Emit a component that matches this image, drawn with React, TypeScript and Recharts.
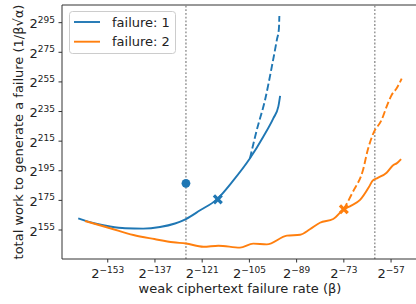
import React from 'react';
import {
  ComposedChart,
  Line,
  Scatter,
  XAxis,
  YAxis,
  ReferenceLine,
  Legend,
} from 'recharts';

const FONT = '"DejaVu Sans", sans-serif';
const BLUE = '#1f77b4';
const ORANGE = '#ff7f0e';
const AXIS = '#333';

// all values are log2: x = log2(beta), y = log2(total work)
const blueSolidX = [-163, -157.3, -152.2, -147.1, -141, -135.3, -130.2, -126.5, -121.7, -116, -110.5, -104.8, -100.3, -96.9, -95.2, -94.6];
const blueSolidY = [162.9, 159.4, 157.4, 156.2, 155.9, 157.0, 159.4, 162.4, 168.3, 175.7, 188.3, 203.4, 218.0, 230.4, 238.3, 245.5];

const blueDashX = [-104.8, -102.5, -99.7, -97.4, -95.7, -95.0, -94.85];
const blueDashY = [203.4, 222.5, 242.8, 265.3, 283.3, 291, 299.5];

const orangeSolidX = [-160.7, -152.2, -144.3, -137.2, -130.8, -126.5, -120.6, -115.5, -108.2, -103.7, -99.1, -92.3, -87.8, -84.5, -81.1, -76.6, -73.0, -70.5, -67.5, -64.5, -63.3, -61.8, -58.5, -56.2, -55.1, -53.6];
const orangeSolidY = [161.1, 156.2, 151.6, 148.9, 146.7, 145.9, 143.7, 144.4, 143.1, 145.8, 145.3, 151.2, 151.8, 155.5, 159.9, 162.4, 169.0, 171.5, 175.3, 184, 188.2, 189.9, 193.7, 198.9, 200.0, 202.9];

const orangeDashX = [-73.0, -69.9, -66.5, -64.9, -63.0, -60.2, -58.5, -56.8, -55.1, -53.4];
const orangeDashY = [169.0, 180.9, 195.5, 209.0, 220.3, 229.3, 238.3, 246.2, 250.7, 257.2];

const blueDot = { x: -126.5, y: 186.5 };
const blueCross = { x: -115.7, y: 175.7 };
const orangeCross = { x: -73.0, y: 169.0 };

const vLines = [-126.5, -62.5];

const xTicks = [-153, -137, -121, -105, -89, -73, -57];
const yTicks = [155, 175, 195, 215, 235, 255, 275, 295];

const X_DOMAIN = [-168.5, -47.19];
const Y_DOMAIN = [135.42, 306.93];

const legendItems = [
  { label: 'failure: 1', color: BLUE },
  { label: 'failure: 2', color: ORANGE },
];

const zip = (xs: number[], ys: number[]) => xs.map((x, i) => ({ x, y: ys[i] }));

const blueSolid = zip(blueSolidX, blueSolidY);
const blueDash = zip(blueDashX, blueDashY);
const orangeSolid = zip(orangeSolidX, orangeSolidY);
const orangeDash = zip(orangeDashX, orangeDashY);

const minus = (v: number) => (v < 0 ? '\u2212' + Math.abs(v) : String(v));

const XTick = (props: any) => {
  const { x, y, payload } = props;
  return (
    <text x={x} y={y + 12.3} textAnchor="middle" fontFamily={FONT} fontSize={13} fill="#222">
      <tspan>2</tspan>
      <tspan dy={-5} fontSize={9}>{minus(payload.value)}</tspan>
    </text>
  );
};

const YTick = (props: any) => {
  const { x, y, payload } = props;
  return (
    <text x={x} y={y + 5.5} textAnchor="end" fontFamily={FONT} fontSize={13} fill="#222">
      <tspan>2</tspan>
      <tspan dy={-5.5} fontSize={9}>{minus(payload.value)}</tspan>
    </text>
  );
};

const YLabel = (props: any) => {
  const vb = props.viewBox || { x: 0, y: 5, width: 62, height: 254 };
  const cy = vb.y + vb.height / 2;
  const cx = 22.5;
  return (
    <text x={cx} y={cy} transform={`rotate(-90 ${cx} ${cy})`} textAnchor="middle" fontFamily={FONT} fontSize={13} fill="#222">
      total work to generate a failure (1/β√α)
    </text>
  );
};

const XLabel = (props: any) => {
  const vb = props.viewBox || { x: 62, y: 259, width: 358, height: 45 };
  return (
    <text x={vb.x + vb.width / 2 - 1} y={vb.y + 34} textAnchor="middle" fontFamily={FONT} fontSize={13} fill="#222">
      weak ciphertext failure rate (β)
    </text>
  );
};

// matplotlib-style filled "X" marker
const Cross = (props: any) => {
  const { cx, cy, fill } = props;
  const h = 3.9;
  return (
    <g stroke={fill} strokeWidth={3.2}>
      <line x1={cx - h} y1={cy - h} x2={cx + h} y2={cy + h} />
      <line x1={cx - h} y1={cy + h} x2={cx + h} y2={cy - h} />
    </g>
  );
};

const Dot = (props: any) => <circle cx={props.cx} cy={props.cy} r={4.4} fill={props.fill} />;

const renderLegend = () => (
  <svg width={108} height={44} style={{ display: 'block' }}>
    <rect x={0.5} y={0.5} width={106} height={42} rx={3} fill="#fff" fillOpacity={0.8} stroke="#ccc" />
    {legendItems.map((it, i) => (
      <g key={it.label}>
        <line x1={5} x2={31} y1={11 + i * 19.7} y2={11 + i * 19.7} stroke={it.color} strokeWidth={1.9} />
        <text x={43} y={15.7 + i * 19.7} fontFamily={FONT} fontSize={13} fill="#222">
          {it.label}
        </text>
      </g>
    ))}
  </svg>
);

export default function App() {
  return (
    <div style={{ position: 'absolute', left: 0, top: 0, width: 416, height: 304, overflow: 'hidden', background: '#fff' }}>
      <ComposedChart width={422} height={304} margin={{ top: 5, right: 2, bottom: 0, left: 0 }}>
        <XAxis
          type="number"
          dataKey="x"
          domain={X_DOMAIN}
          allowDataOverflow
          ticks={xTicks}
          interval={0}
          tick={<XTick />}
          tickSize={3.5}
          tickMargin={3.5}
          height={45}
          axisLine={{ stroke: AXIS, strokeWidth: 1 }}
          tickLine={{ stroke: AXIS, strokeWidth: 1 }}
          label={<XLabel />}
        />
        <YAxis
          type="number"
          dataKey="y"
          domain={Y_DOMAIN}
          allowDataOverflow
          ticks={yTicks}
          interval={0}
          tick={<YTick />}
          tickSize={3.5}
          tickMargin={3.5}
          width={62}
          axisLine={{ stroke: AXIS, strokeWidth: 1 }}
          tickLine={{ stroke: AXIS, strokeWidth: 1 }}
          label={<YLabel />}
        />
        <ReferenceLine y={Y_DOMAIN[1]} stroke={AXIS} strokeWidth={1} />
        {vLines.map((v) => (
          <ReferenceLine key={v} x={v} stroke="#888" strokeWidth={1.3} strokeDasharray="1.8 1.9" />
        ))}
        <Line data={blueSolid} dataKey="y" type="monotone" stroke={BLUE} strokeWidth={1.9} dot={false} isAnimationActive={false} />
        <Line data={blueDash} dataKey="y" type="monotone" stroke={BLUE} strokeWidth={1.9} strokeDasharray="7 3" dot={false} isAnimationActive={false} />
        <Line data={orangeSolid} dataKey="y" type="monotone" stroke={ORANGE} strokeWidth={1.9} dot={false} isAnimationActive={false} />
        <Line data={orangeDash} dataKey="y" type="monotone" stroke={ORANGE} strokeWidth={1.9} strokeDasharray="7 3" dot={false} isAnimationActive={false} />
        <Scatter data={[blueDot]} dataKey="y" fill={BLUE} shape={<Dot />} isAnimationActive={false} />
        <Scatter data={[blueCross]} dataKey="y" fill={BLUE} shape={<Cross />} isAnimationActive={false} />
        <Scatter data={[orangeCross]} dataKey="y" fill={ORANGE} shape={<Cross />} isAnimationActive={false} />
        <Legend
          content={renderLegend}
          layout="horizontal"
          verticalAlign="middle"
          align="center"
          wrapperStyle={{ left: 69, top: 11, width: 108, height: 44 }}
        />
      </ComposedChart>
    </div>
  );
}
